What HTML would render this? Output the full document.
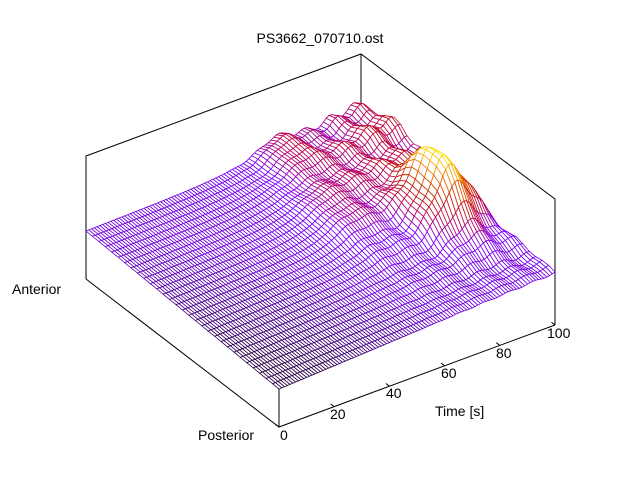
<!DOCTYPE html>
<html><head><meta charset="utf-8"><style>
html,body{margin:0;padding:0;background:#fff;}
svg{display:block;font-family:"Liberation Sans",sans-serif;}
</style></head><body>
<svg id="s" width="640" height="480" viewBox="0 0 640 480" xmlns="http://www.w3.org/2000/svg">
<rect width="640" height="480" fill="#fff"/>
<g id="box1" stroke="#000" stroke-width="1" fill="none">
<polyline points="86,279 86,156 361,54 555,199 555,325"/>
<line x1="361" y1="54" x2="361" y2="140"/>
<polyline points="86,279 279,427 555,325"/>
<line x1="279" y1="427" x2="279" y2="383"/>
</g>
<g id="mesh"></g>
<g stroke="#000" stroke-width="1" fill="none" id="ticks"></g>
<text x="320" y="43" font-size="14" text-anchor="middle">PS3662_070710.ost</text>
<text x="12" y="294" font-size="14">Anterior</text>
<text x="198" y="440" font-size="14">Posterior</text>
<text x="435" y="416" font-size="14">Time [s]</text>
<text x="280" y="440" font-size="14">0</text>
<text x="330" y="419" font-size="14">20</text>
<text x="386" y="398" font-size="14">40</text>
<text x="441" y="378" font-size="14">60</text>
<text x="496" y="358" font-size="14">80</text>
<text x="547" y="338" font-size="14">100</text>
</svg>
<script>
(function(){
function g(t,p,ct,cp,st,sp){var a=(t-ct)/st,b=(p-cp)/sp;return Math.exp(-0.5*(a*a+b*b));}
function Z(t,p){
 var z=42+6*p+10*t*(1-0.4*p)-4*(1-t)*(1-p);
 z+=62*g(t,p,0.88,0.42,0.06,0.11);
 z+=22*g(t,p,0.80,0.72,0.18,0.25);
 z+=14*g(t,p,0.68,0.93,0.05,0.08);
 z+=14*g(t,p,0.97,0.88,0.07,0.12);
 z+=10*g(t,p,0.62,0.55,0.06,0.15);
 var m=Math.max(0,(t-0.5))*2;
 z+=m*(5*Math.sin(t*70+p*9)+4*Math.sin(p*40))*Math.min(1,p*2+0.2);
 return z;
}
function P(t,p,z){return [279+276*t-193*p, 427-102*t-148*p - z];}
function col(z){
 var n=(z-40)/90; if(n<0)n=0; if(n>1)n=1;
 var stops=[[0,[40,0,70]],[0.08,[110,0,220]],[0.24,[128,0,255]],[0.4,[190,0,80]],[0.55,[200,30,0]],[0.72,[240,120,0]],[0.9,[255,220,0]],[1,[255,230,0]]];
 for(var i=1;i<stops.length;i++){if(n<=stops[i][0]){var a=stops[i-1],b=stops[i],f=(n-a[0])/(b[0]-a[0]);
  return "rgb("+[0,1,2].map(function(k){return Math.round(a[1][k]+(b[1][k]-a[1][k])*f);}).join(",")+")";}}
 return "rgb(255,230,0)";
}
var NT=100,NP=30,zz=[];
for(var i=0;i<=NT;i++){zz[i]=[];for(var j=0;j<=NP;j++)zz[i][j]=Z(i/NT,j/NP);}
var quads=[];
for(var i=0;i<NT;i++)for(var j=0;j<NP;j++){
 var t=(i+0.5)/NT,p=(j+0.5)/NP;quads.push([i,j,102*t+148*p]);}
quads.sort(function(a,b){return b[2]-a[2];});
var out=[];
quads.forEach(function(q){
 var i=q[0],j=q[1];
 var a=P(i/NT,j/NP,zz[i][j]),b=P((i+1)/NT,j/NP,zz[i+1][j]),c=P((i+1)/NT,(j+1)/NP,zz[i+1][j+1]),d=P(i/NT,(j+1)/NP,zz[i][j+1]);
 var zavg=(zz[i][j]+zz[i+1][j]+zz[i+1][j+1]+zz[i][j+1])/4;
 out.push('<polygon points="'+[a,b,c,d].map(function(v){return v[0].toFixed(1)+","+v[1].toFixed(1);}).join(" ")+'" fill="#fff" stroke="'+col(zavg)+'" stroke-width="0.8"/>');
});
document.getElementById("mesh").innerHTML=out.join("");
var tk=[];
for(var k=0;k<=5;k++){var t=k/5,x=279+276*t,y=427-102*t;
 tk.push('<line x1="'+x+'" y1="'+y+'" x2="'+(x-3.5)+'" y2="'+(y-2.7)+'"/>');}
document.getElementById("ticks").innerHTML=tk.join("");
})();
</script>
</body></html>
